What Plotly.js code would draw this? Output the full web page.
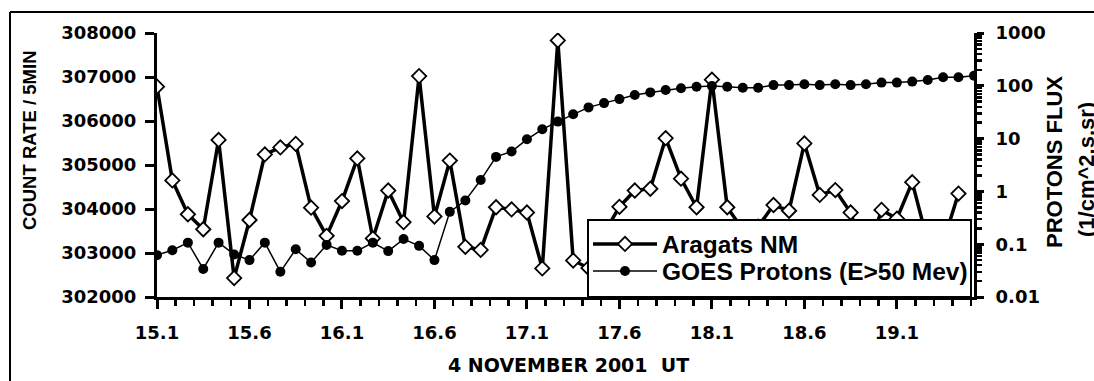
<!DOCTYPE html>
<html>
<head>
<meta charset="utf-8">
<script src="https://cdn.plot.ly/plotly-3.0.1.min.js"></script>
<style>
  html, body { margin: 0; padding: 0; background: #ffffff; }
  #chart { width: 1094px; height: 381px; }
</style>
</head>
<body>
<div id="chart"></div>
<script>
// Time of each 5-minute sample (decimal hours UT, 4 November 2001)
const hours = [
  15.100, 15.183, 15.267, 15.350, 15.433, 15.517, 15.600, 15.683, 15.767, 15.850,
  15.933, 16.017, 16.100, 16.183, 16.267, 16.350, 16.433, 16.517, 16.600, 16.683,
  16.767, 16.850, 16.933, 17.017, 17.100, 17.183, 17.267, 17.350, 17.433, 17.517,
  17.600, 17.683, 17.767, 17.850, 17.933, 18.017, 18.100, 18.183, 18.267, 18.350,
  18.433, 18.517, 18.600, 18.683, 18.767, 18.850, 18.933, 19.017, 19.100, 19.183,
  19.267, 19.350, 19.433, 19.517
];

// Aragats neutron monitor count rate per 5 min (left axis)
const aragatsNM = [
  306780, 304650, 303880, 303540, 305570, 302430, 303750, 305240, 305400, 305480,
  304030, 303390, 304180, 305150, 303330, 304420, 303700, 307020, 303830, 305100,
  303140, 303070, 304040, 303990, 303920, 302650, 307830, 302830, 302660, 303450,
  304050, 304420, 304460, 305610, 304690, 304040, 306940, 304040, 303530, 303600,
  304090, 303960, 305490, 304320, 304430, 303920, 302860, 303980, 303780, 304610,
  303250, 303230, 304350
];

// GOES proton flux E>50 MeV (right axis, log)
const goesProtons = [
  0.062, 0.077, 0.107, 0.034, 0.107, 0.064, 0.050, 0.107, 0.030, 0.080,
  0.045, 0.097, 0.075, 0.075, 0.107, 0.074, 0.125, 0.093, 0.050, 0.41,
  0.67, 1.64, 4.5, 5.7, 9.7, 15, 21, 29, 39, 47,
  56, 67, 75, 83, 90, 96, 99, 96, 92, 92,
  103, 103, 107, 103, 107, 103, 107, 115, 115, 120,
  129, 145, 145, 155
];

const seriesNames = ['Aragats NM', 'GOES Protons (E>50 Mev)'];
const xTitle = '4 NOVEMBER 2001\u00A0\u00A0UT';
const yTitle = 'COUNT RATE / 5MIN';
const y2TitleLines = ['PROTONS FLUX', '(1/cm^2.s.sr)'];

const tickFont = { family: 'DejaVu Sans', size: 18, color: '#000', weight: 'bold' };
const legendFont = { family: 'Liberation Sans', size: 24.5, color: '#000', weight: 'bold' };

const traces = [
  {
    x: hours.slice(0, aragatsNM.length),
    y: aragatsNM,
    name: seriesNames[0],
    type: 'scatter',
    mode: 'lines+markers',
    yaxis: 'y',
    legend: 'legend',
    line: { color: '#000', width: 3.5 },
    marker: { symbol: 'diamond', size: 11, color: '#fff', line: { color: '#000', width: 1.8 } }
  },
  {
    x: hours,
    y: goesProtons,
    name: seriesNames[1],
    type: 'scatter',
    mode: 'lines+markers',
    yaxis: 'y2',
    legend: 'legend2',
    line: { color: '#000', width: 1.5 },
    marker: { symbol: 'circle', size: 10, color: '#000' }
  }
];

const L = 157, R = 974, T = 33, B = 297;
const W = R - L, H = B - T;
const px = v => (v - L) / W;
const py = v => (B - v) / H;

const legendBase = {
  xanchor: 'left', yanchor: 'middle',
  bgcolor: 'rgba(0,0,0,0)', borderwidth: 0,
  font: legendFont, itemwidth: 64
};

const layout = {
  width: 1094,
  height: 381,
  margin: { l: L, r: 1094 - R, t: T, b: 381 - B },
  paper_bgcolor: '#fff',
  plot_bgcolor: '#fff',
  showlegend: true,
  xaxis: {
    range: [hours[0], hours[hours.length - 1]],
    tick0: 15.1, dtick: 0.5,
    ticks: 'outside', ticklen: 9, tickwidth: 3, tickcolor: '#000',
    minor: { dtick: 0.1, ticks: 'outside', ticklen: 6, tickwidth: 2.5, tickcolor: '#000', showgrid: false },
    showline: true, linewidth: 3, linecolor: '#000',
    showgrid: false, zeroline: false,
    tickfont: tickFont, ticklabelstandoff: 8
  },
  yaxis: {
    range: [302000, 308000], dtick: 1000, tickformat: 'd',
    ticks: 'outside', ticklen: 9, tickwidth: 3, tickcolor: '#000',
    showline: true, linewidth: 3, linecolor: '#000',
    showgrid: false, zeroline: false,
    tickfont: tickFont, ticklabelstandoff: 5
  },
  yaxis2: {
    type: 'log', range: [-2, 3], dtick: 1, tickformat: '~g',
    overlaying: 'y', side: 'right',
    ticks: 'outside', ticklen: 7, tickwidth: 3, tickcolor: '#000',
    minor: { dtick: 'D1', ticks: 'outside', ticklen: 5, tickwidth: 2.5, tickcolor: '#000', showgrid: false },
    showline: true, linewidth: 3, linecolor: '#000',
    showgrid: false, zeroline: false,
    tickfont: tickFont, ticklabelstandoff: 8
  },
  yaxis3: {
    type: 'log', range: [-2, 3], dtick: 1,
    overlaying: 'y', side: 'right',
    ticks: 'inside', ticklen: 7, tickwidth: 3, tickcolor: '#000',
    minor: { dtick: 'D1', ticks: 'inside', ticklen: 5, tickwidth: 2.5, tickcolor: '#000', showgrid: false },
    showticklabels: false, showline: false,
    showgrid: false, zeroline: false
  },
  legend: Object.assign({ x: px(588), y: py(244) }, legendBase),
  legend2: Object.assign({ x: px(588), y: py(271) }, legendBase),
  annotations: [
    { text: yTitle, xref: 'paper', yref: 'paper', x: px(29), y: py(140), xanchor: 'center', yanchor: 'middle',
      textangle: -90, showarrow: false, font: { family: 'Liberation Sans', size: 18.5, color: '#000', weight: 'bold' } },
    { text: y2TitleLines[0], xref: 'paper', yref: 'paper', x: px(1054), y: py(162), xanchor: 'center', yanchor: 'middle',
      textangle: -90, showarrow: false, font: { family: 'Liberation Sans', size: 22, color: '#000', weight: 'bold' } },
    { text: y2TitleLines[1], xref: 'paper', yref: 'paper', x: px(1086), y: py(170), xanchor: 'center', yanchor: 'middle',
      textangle: -90, showarrow: false, font: { family: 'Liberation Sans', size: 22, color: '#000', weight: 'bold' } },
    { text: xTitle, xref: 'paper', yref: 'paper', x: px(568), y: py(365), xanchor: 'center', yanchor: 'middle',
      showarrow: false, font: { family: 'DejaVu Sans', size: 19, color: '#000', weight: 'bold' } }
  ],
  shapes: [
    { type: 'rect', xref: 'paper', yref: 'paper', layer: 'above',
      x0: px(588), x1: px(971), y0: py(297), y1: py(220),
      fillcolor: '#fff', line: { color: '#000', width: 2 } },
    { type: 'line', xref: 'paper', yref: 'paper', x0: px(10), x1: px(1100), y0: py(12), y1: py(12),
      line: { color: '#000', width: 2 } },
    { type: 'line', xref: 'paper', yref: 'paper', x0: px(10), x1: px(10), y0: py(12), y1: py(400),
      line: { color: '#000', width: 2 } }
  ]
};

Plotly.newPlot('chart', traces, layout, { staticPlot: true, displayModeBar: false });
</script>
</body>
</html>
